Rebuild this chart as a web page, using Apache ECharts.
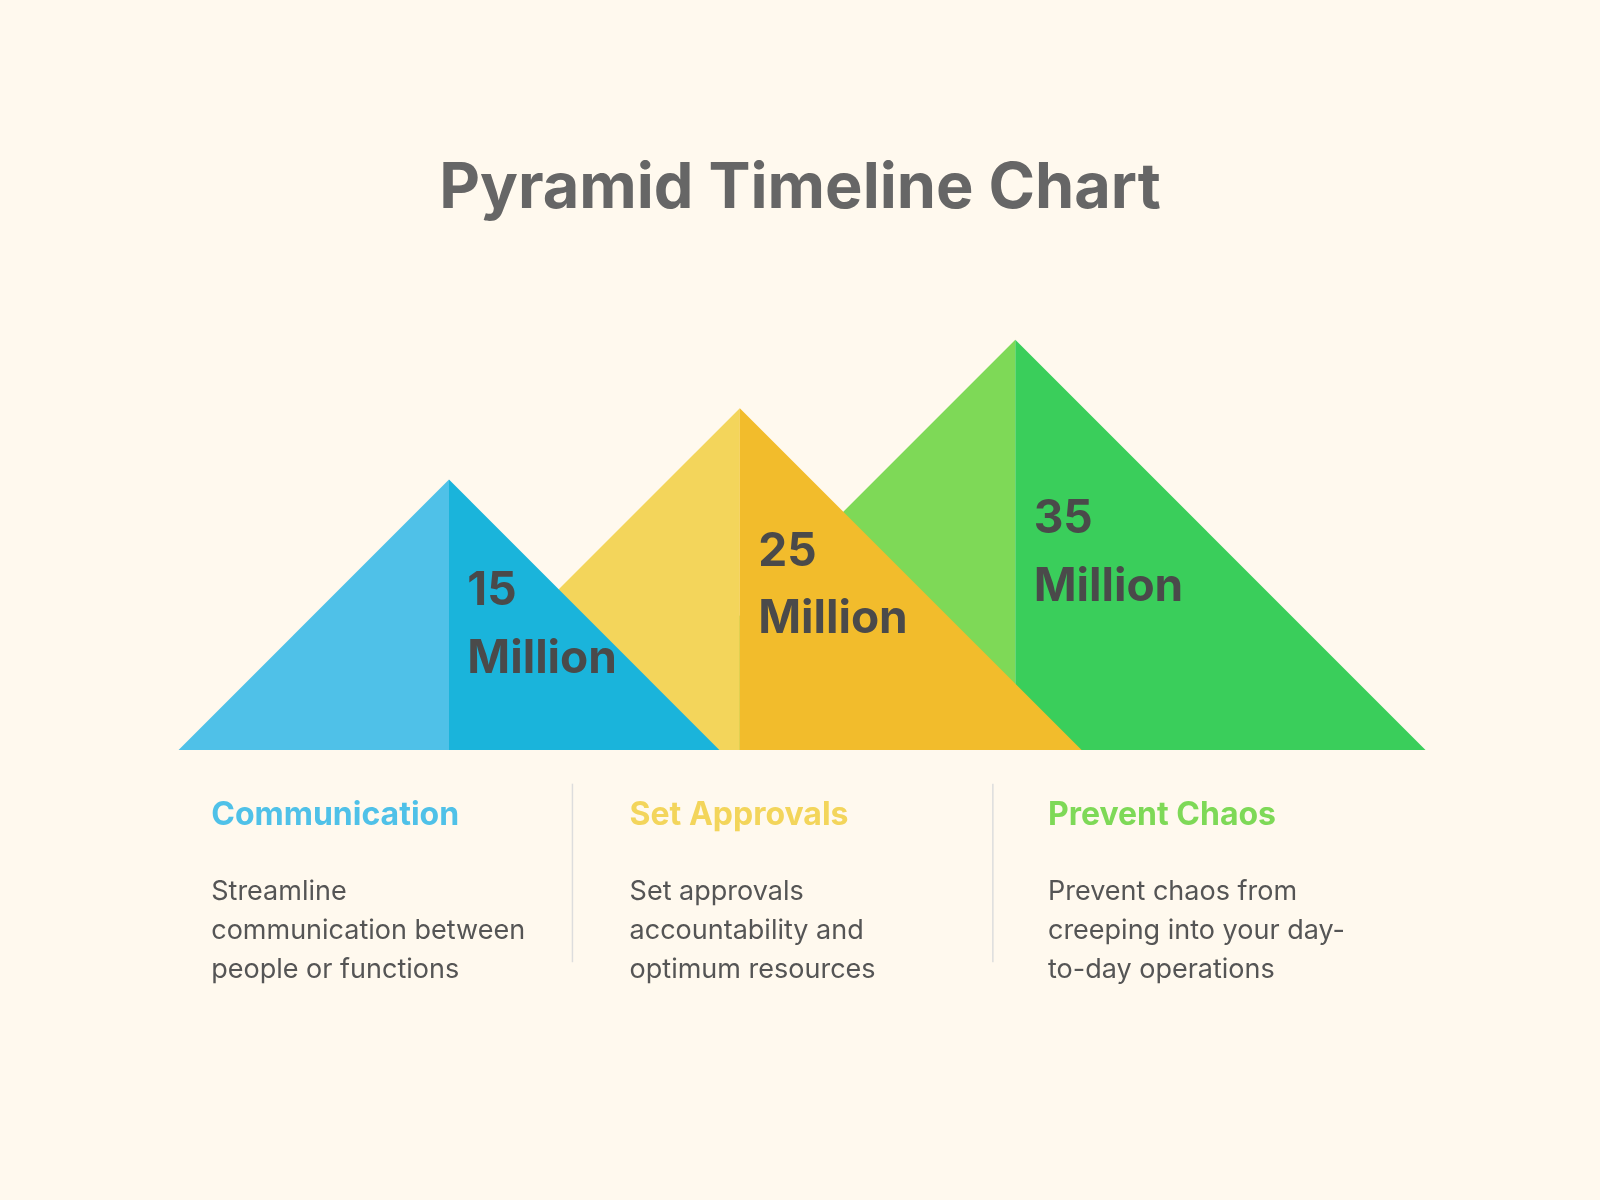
<!DOCTYPE html>
<html><head><meta charset="utf-8">
<script src="https://cdn.jsdelivr.net/npm/echarts@6/dist/echarts.min.js"></script>
<style>html,body{margin:0;background:#FFF9EE}#c{width:1600px;height:1200px}</style>
</head><body><div id="c"></div>
<script>
const categories = ['Communication', 'Set Approvals', 'Prevent Chaos'];
const values = [15, 25, 35];
const valueLabels = ['15\nMillion', '25\nMillion', '35\nMillion'];
const apexX = [440, 725, 995];
const apexY = [470, 400, 333];
const baseY = 735;
const descriptions = [
  'Streamline\ncommunication between\npeople or functions',
  'Set approvals\naccountability and\noptimum resources',
  'Prevent chaos from\ncreeping into your day-\nto-day operations'
];
const lightColors = ['#4FC1E8', '#F3D55B', '#7ED957'];
const darkColors = ['#1AB4DB', '#F2BC2C', '#3ACE5B'];
const headColors = ['#4FC1E8', '#F3D55B', '#7ED957'];
const K = 1600 / 1568;
const chart = echarts.init(document.getElementById('c'));
const order = [2, 1, 0];
const data = order.map(i => [apexX[i], apexY[i], i]);
const graphic = [];
const colX = [207, 617, 1027];
categories.forEach((c, i) => {
  graphic.push({type: 'text', left: colX[i] * K, top: 783 * K, style: {text: c, font: 'bold ' + Math.round(31 * K) + 'px Inter', fill: headColors[i]}});
  graphic.push({type: 'text', left: colX[i] * K, top: 855 * K, style: {text: descriptions[i], font: Math.round(26 * K) + 'px Inter', fill: '#555', lineHeight: 38 * K}});
});
[561, 973].forEach(x => graphic.push({type: 'line', shape: {x1: x * K, y1: 768 * K, x2: x * K, y2: 943 * K}, style: {stroke: '#DDDDDD', lineWidth: 1.5}}));
chart.setOption({
  backgroundColor: '#FFF9EE',
  title: {text: 'Pyramid Timeline Chart', left: 'center', top: 150 * K, textStyle: {fontFamily: 'Inter', fontWeight: 'bold', fontSize: Math.round(62 * K), color: '#666'}},
  grid: {left: 0, right: 0, top: 0, bottom: 0},
  xAxis: {type: 'value', min: 0, max: 1568, show: false},
  yAxis: {type: 'value', min: 0, max: 1176, inverse: true, show: false},
  graphic: graphic,
  series: [{
    type: 'custom', data: data, silent: true,
    renderItem: (params, api) => {
      const ax = api.value(0), ay = api.value(1), i = api.value(2);
      const h = baseY - ay;
      const A = api.coord([ax, ay]), L = api.coord([ax - h, baseY]), R = api.coord([ax + h, baseY]), M = api.coord([ax, baseY]);
      const t = api.coord([ax + 18, ay + h * 0.52 + (i === 0 ? 5 : 0)]);
      return {type: 'group', children: [
        {type: 'polygon', shape: {points: [A, L, M]}, style: {fill: lightColors[i]}},
        {type: 'polygon', shape: {points: [A, M, R]}, style: {fill: darkColors[i]}},
        {type: 'text', x: t[0], y: t[1], style: {text: valueLabels[i], font: 'bold ' + Math.round(45 * K) + 'px Inter', fill: '#4A4A4A', lineHeight: 66 * K, verticalAlign: 'middle'}}
      ]};
    }
  }]
});
</script></body></html>
